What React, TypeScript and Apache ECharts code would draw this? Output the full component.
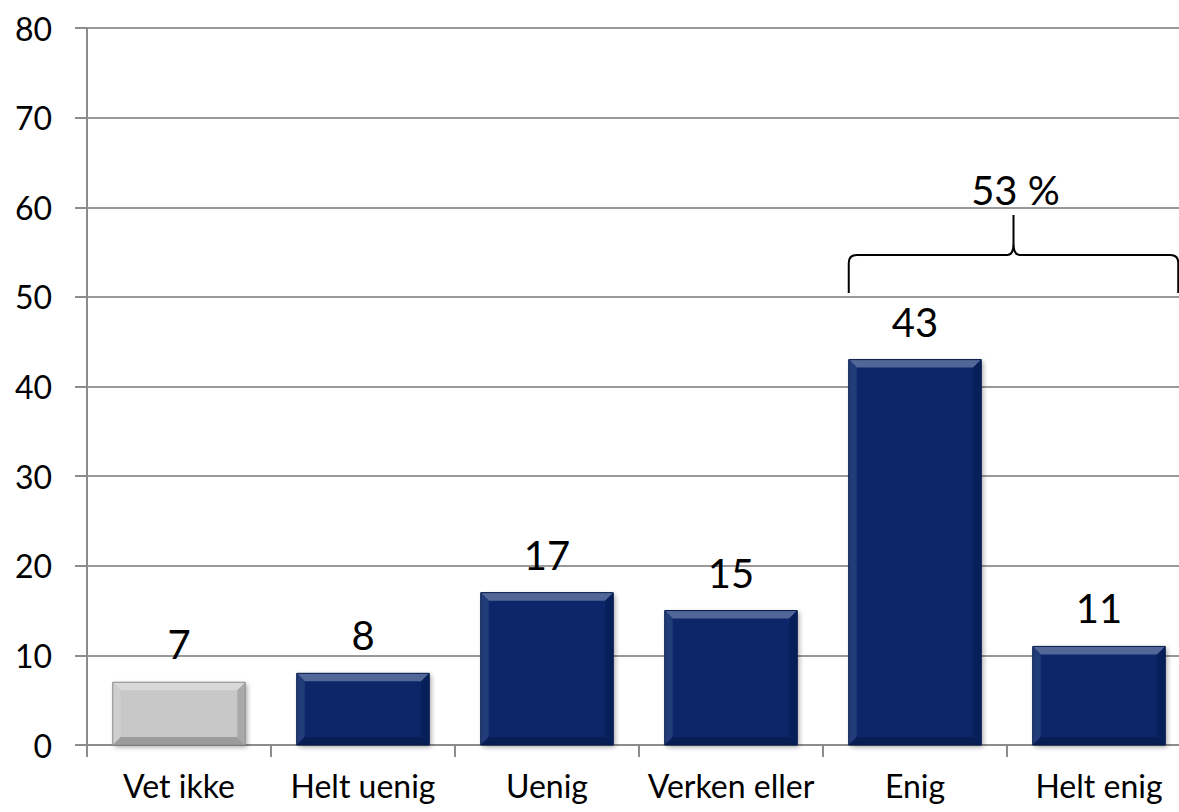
import React, { useEffect, useRef } from "react";
import * as echarts from "echarts";

const categories = ["Vet ikke", "Helt uenig", "Uenig", "Verken eller", "Enig", "Helt enig"];
const values = [7, 8, 17, 15, 43, 11];
const barColors = ["#c8c8c8", "#08266a", "#08266a", "#08266a", "#08266a", "#08266a"];
const bracketRange = [4, 5];
const bracketBase = 50;
const bracketLabel = "53 %";

const FONT = "Lato, 'Open Sans', sans-serif";

function lighten(hex: string, amt: number) {
  const n = parseInt(hex.slice(1), 16);
  let r = (n >> 16) & 255, g = (n >> 8) & 255, b = n & 255;
  if (amt >= 0) {
    r = Math.round(r + (255 - r) * amt);
    g = Math.round(g + (255 - g) * amt);
    b = Math.round(b + (255 - b) * amt);
  } else {
    r = Math.round(r * (1 + amt));
    g = Math.round(g * (1 + amt));
    b = Math.round(b * (1 + amt));
  }
  return `rgb(${r},${g},${b})`;
}

export default function App() {
  const ref = useRef<HTMLDivElement>(null);
  useEffect(() => {
    if (!ref.current) return;
    const chart = echarts.init(ref.current, undefined, { renderer: "svg" });
    const BW = 0.72;
    chart.setOption({
      animation: false,
      grid: { left: 87, right: 0, top: 28, bottom: 67, containLabel: false },
      xAxis: {
        type: "category",
        data: categories,
        axisLine: { lineStyle: { color: "#8c8c8c", width: 2 } },
        axisTick: { show: true, length: 12, lineStyle: { color: "#8c8c8c", width: 2 } },
        axisLabel: { color: "#000", fontSize: 32, fontFamily: FONT, margin: 24, interval: 0 },
      },
      yAxis: {
        type: "value",
        min: 0,
        max: 80,
        interval: 10,
        axisLine: { show: true, lineStyle: { color: "#8c8c8c", width: 2 } },
        axisTick: { show: true, length: 12, lineStyle: { color: "#8c8c8c", width: 2 } },
        axisLabel: { color: "#000", fontSize: 32, fontFamily: FONT, margin: 35 },
        splitLine: { lineStyle: { color: "#999", width: 2 } },
      },
      series: [
        {
          type: "bar",
          barWidth: "72%",
          data: values.map((v, i) => ({
            value: v,
            itemStyle: {
              color: barColors[i],
              shadowColor: "rgba(0,0,0,0.35)",
              shadowBlur: 5,
              shadowOffsetX: 2,
              shadowOffsetY: 2,
            },
          })),
          label: {
            show: true,
            position: "top",
            distance: 18,
            color: "#000",
            fontSize: 40,
            fontFamily: FONT,
          },
          z: 2,
        },
        {
          type: "custom",
          silent: true,
          z: 3,
          data: values.map((v, i) => [i, v]),
          renderItem: (params: any, api: any) => {
            const i = api.value(0);
            const v = api.value(1);
            const top = api.coord([i, v]);
            const bottom = api.coord([i, 0]);
            const band = api.size([1, 0])[0];
            const w = band * BW;
            const x0 = top[0] - w / 2;
            const x1 = top[0] + w / 2;
            const y0 = top[1];
            const y1 = bottom[1];
            const b = 8;
            const c = barColors[i];
            return {
              type: "group",
              children: [
                { type: "polygon", shape: { points: [[x0, y0], [x1, y0], [x1 - b, y0 + b], [x0 + b, y0 + b]] }, style: { fill: lighten(c, 0.3) } },
                { type: "polygon", shape: { points: [[x0, y0], [x0 + b, y0 + b], [x0 + b, y1 - b], [x0, y1]] }, style: { fill: lighten(c, 0.1) } },
                { type: "polygon", shape: { points: [[x1, y0], [x1, y1], [x1 - b, y1 - b], [x1 - b, y0 + b]] }, style: { fill: lighten(c, -0.15) } },
                { type: "polygon", shape: { points: [[x0, y1], [x0 + b, y1 - b], [x1 - b, y1 - b], [x1, y1]] }, style: { fill: lighten(c, -0.22) } },
                { type: "rect", shape: { x: x0, y: y0, width: w, height: y1 - y0 }, style: { fill: "none", stroke: lighten(c, -0.3), lineWidth: 1 } },
              ],
            };
          },
        },
        {
          type: "custom",
          silent: true,
          z: 4,
          data: [[bracketRange[0], bracketRange[1], bracketBase]],
          renderItem: (params: any, api: any) => {
            const a = api.value(0);
            const bIdx = api.value(1);
            const base = api.value(2);
            const band = api.size([1, 0])[0];
            const w = band * BW;
            const pl = api.coord([a, base]);
            const pr = api.coord([bIdx, base]);
            const xl = pl[0] - w / 2;
            const xr = pr[0] + w / 2 + 13;
            const yb = pl[1] - 4;
            const yh = yb - 38;
            const yp = yb - 78;
            const xm = (xl + xr) / 2;
            const r = 8;
            const d =
              `M${xl},${yb} L${xl},${yh + r} Q${xl},${yh} ${xl + r},${yh} L${xm - 6},${yh} Q${xm},${yh} ${xm},${yh - 12} L${xm},${yp}` +
              ` M${xm},${yh - 12} Q${xm},${yh} ${xm + 6},${yh} L${xr - r},${yh} Q${xr},${yh} ${xr},${yh + r} L${xr},${yb}`;
            return {
              type: "group",
              children: [
                { type: "path", shape: { pathData: d }, style: { fill: "none", stroke: "#000", lineWidth: 2 } },
                { type: "text", x: xm + 2, y: yp - 5, style: { text: bracketLabel, fill: "#000", fontSize: 40, fontFamily: FONT, align: "center", verticalAlign: "bottom" } },
              ],
            };
          },
        },
      ],
    });
    return () => chart.dispose();
  }, []);
  return (
    <div style={{ position: "fixed", left: 0, top: 0, width: 1179, height: 812, background: "#fff", overflow: "hidden" }}>
      <div ref={ref} style={{ position: "absolute", left: 0, top: 0, width: 1191, height: 812 }} />
    </div>
  );
}
